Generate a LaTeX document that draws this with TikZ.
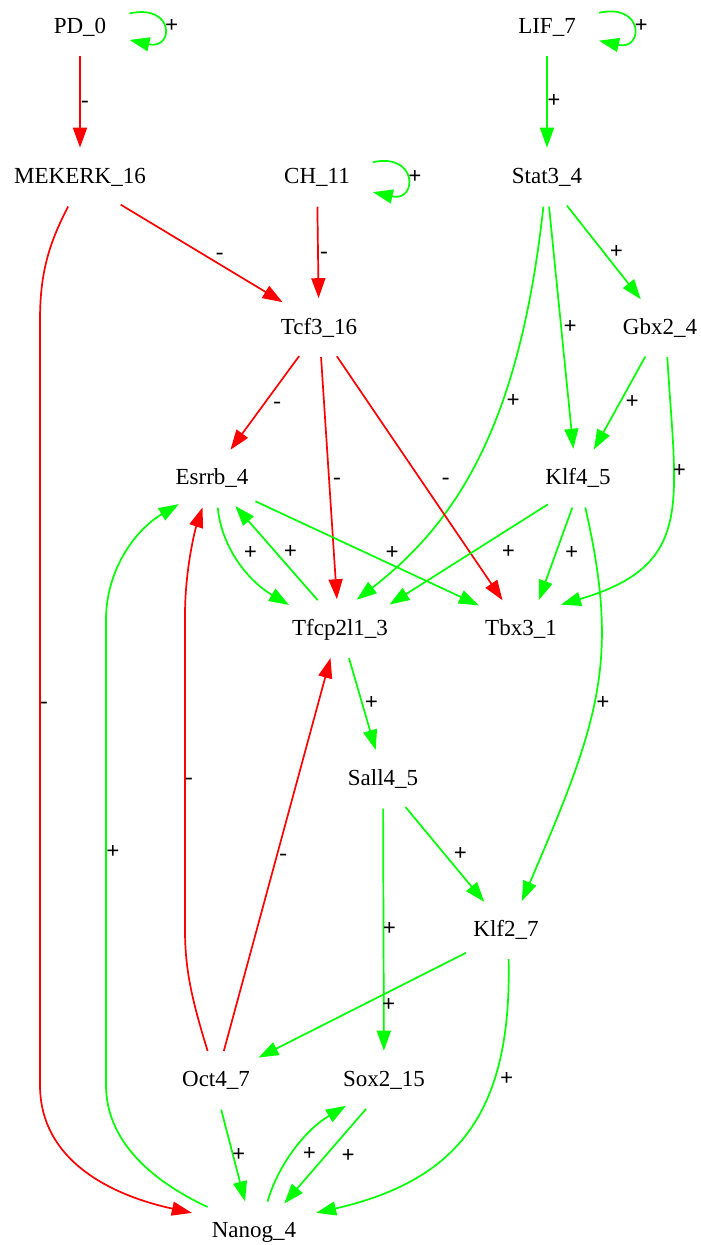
\documentclass[tikz,border=0pt]{standalone}
\usepackage{fontspec}
\setmainfont{Liberation Serif}
\usetikzlibrary{arrows.meta,shapes.geometric}
\definecolor{gpos}{RGB}{0,255,0}
\definecolor{gneg}{RGB}{255,0,0}
\begin{document}
\begin{tikzpicture}[x=1pt,y=-1pt,
  gene/.style={ellipse, inner xsep=13pt, inner ysep=2pt, minimum width=89pt, minimum height=59pt,
    outer sep=0pt, font=\fontsize{23}{27}\selectfont, text height=17pt, text depth=4.4pt},
  lbl/.style={font=\fontsize{23}{27}\selectfont\bfseries, text=black, inner sep=0pt, text height=11.6pt, text depth=0pt},
  nlbl/.style={font=\fontsize{23}{27}\selectfont, text=black, inner sep=0pt, text height=11.6pt, text depth=0pt},
  act/.style={color=gpos, line width=1.7pt, -{Triangle[length=20pt,width=14pt]}},
  inh/.style={color=gneg, line width=1.7pt, -{Triangle[length=20pt,width=14pt]}}]
\useasboundingbox (0,0) rectangle (701,1245);
% nodes
\node[gene] (PD)    at (80,26.7)   {PD\_0};
\node[gene] (LIF)   at (547,26.7)  {LIF\_7};
\node[gene] (MEK)   at (80,177.2)  {MEKERK\_16};
\node[gene] (CH)    at (317,177.2) {CH\_11};
\node[gene] (Stat)  at (547,177.2) {Stat3\_4};
\node[gene] (Tcf)   at (319,327.7) {Tcf3\_16};
\node[gene] (Gbx)   at (660,327.7) {Gbx2\_4};
\node[gene] (Esrrb) at (212,478.2) {Esrrb\_4};
\node[gene] (Klf4)  at (578,478.2) {Klf4\_5};
\node[gene] (Tfcp)  at (340,628.7) {Tfcp2l1\_3};
\node[gene] (Tbx)   at (521,628.7) {Tbx3\_1};
\node[gene] (Sall)  at (383,779.2) {Sall4\_5};
\node[gene] (Klf2)  at (506,929.7) {Klf2\_7};
\node[gene] (Oct)   at (216,1080.2) {Oct4\_7};
\node[gene] (Sox)   at (384,1080.2) {Sox2\_15};
\node[gene] (Nanog) at (254,1230.7) {Nanog\_4};
% self loops
\draw[act] (PD.15) .. controls +(45,-10) and +(45,10) .. (PD.-15) node[lbl,pos=0.5,anchor=west,xshift=1pt] {+};
\draw[act] (LIF.15) .. controls +(45,-10) and +(45,10) .. (LIF.-15) node[lbl,pos=0.5,anchor=west,xshift=1pt] {+};
\draw[act] (CH.15) .. controls +(45,-10) and +(45,10) .. (CH.-15) node[lbl,pos=0.5,anchor=west,xshift=1pt] {+};
% top
\draw[inh] (PD) -- node[nlbl,xshift=5pt] {-} (MEK);
\draw[act] (LIF) -- node[lbl,xshift=7pt] {+} (Stat);
\draw[inh] (MEK.-34) -- node[nlbl,xshift=18pt] {-} (Tcf.145);
\draw[inh] (CH) -- node[nlbl,xshift=6pt] {-} (Tcf);
\draw[inh] (MEK.-112) .. controls (48,245) and (40,275) .. (40,320) -- node[nlbl,xshift=4pt] {-} (40,1085) .. controls (40,1160) and (110,1195) .. (Nanog.164);
% Stat3
\draw[act] (Stat.-55) -- node[lbl,xshift=12.5pt] {+} (Gbx.124);
\draw[act] (Stat.-86) -- node[lbl,xshift=9pt] {+} (Klf4.99);
\draw[act] (Stat.-97) .. controls (520,420) and (460,520) .. (Tfcp.60) node[lbl,pos=0.37,xshift=11pt] {+};
% Gbx2
\draw[act] (Gbx.-117) -- node[lbl,xshift=12.5pt] {+} (Klf4.61);
\draw[act] (Gbx.-76) .. controls (676,505) and (695,565) .. (Tbx.31) node[lbl,pos=0.31,xshift=6pt] {+};
% Tcf3
\draw[inh] (Tcf.-125) -- node[nlbl,xshift=12.5pt] {-} (Esrrb.57);
\draw[inh] (Tcf.-86) -- node[nlbl,xshift=8pt] {-} (Tfcp.96);
\draw[inh] (Tcf.-58) -- node[nlbl,xshift=26pt] {-} (Tbx.123);
% Esrrb
\draw[act] (Esrrb.-28) -- node[lbl,xshift=25pt] {+} (Tbx.151);
\draw[act] (Esrrb.-79) .. controls (222,550) and (250,582) .. (Tfcp.155) node[lbl,pos=0.5,xshift=10pt,yshift=10pt] {+};
\draw[act] (Tfcp.128) -- node[lbl,xshift=14pt] {+} (Esrrb.-50);
% Klf4
\draw[act] (Klf4.-139) -- node[lbl,pos=0.25,yshift=-23pt] {+} (Tfcp.26);
\draw[act] (Klf4.-101) -- node[lbl,xshift=16pt] {+} (Tbx.58);
\draw[act] (Klf4.-76) .. controls (620,660) and (600,720) .. (Klf2.61) node[lbl,pos=0.53,xshift=9pt] {+};
% middle
\draw[act] (Tfcp.-73) -- node[lbl,xshift=9pt] {+} (Sall.104);
\draw[act] (Sall.-51) -- node[lbl,xshift=15.5pt] {+} (Klf2.128);
\draw[act] (Sall) -- node[lbl,xshift=6pt] {+} (Sox);
\draw[act] (Klf2.-150) -- node[lbl,xshift=26.5pt] {+} (Oct.28);
\draw[act] (Klf2.-85) .. controls (512,1110) and (460,1180) .. (Nanog.16) node[lbl,pos=0.3,xshift=11pt,yshift=-5pt] {+};
% Oct4
\draw[inh] (Oct.106) .. controls (192,1000) and (185,970) .. (185,930) -- node[nlbl,xshift=4pt,yshift=-6pt] {-} (185,615) .. controls (185,570) and (195,530) .. (Esrrb.-108);
\draw[inh] (Oct.75) -- node[nlbl,xshift=6pt] {-} (Tfcp.-108);
\draw[act] (Oct.-80) -- node[lbl,xshift=5.5pt] {+} (Nanog.107);
% Nanog
\draw[act] (Nanog.153) .. controls (150,1180) and (106,1140) .. (106,1085) -- node[lbl,xshift=7pt] {+} (106,620) .. controls (106,570) and (135,530) .. (Esrrb.-142);
\draw[act] (Nanog.65) .. controls (278,1165) and (305,1130) .. (Sox.-146) node[lbl,pos=0.5,xshift=14pt,yshift=-6pt] {+};
\draw[act] (Sox.-122) -- node[lbl,xshift=23pt] {+} (Nanog.42);
\end{tikzpicture}
\end{document}
